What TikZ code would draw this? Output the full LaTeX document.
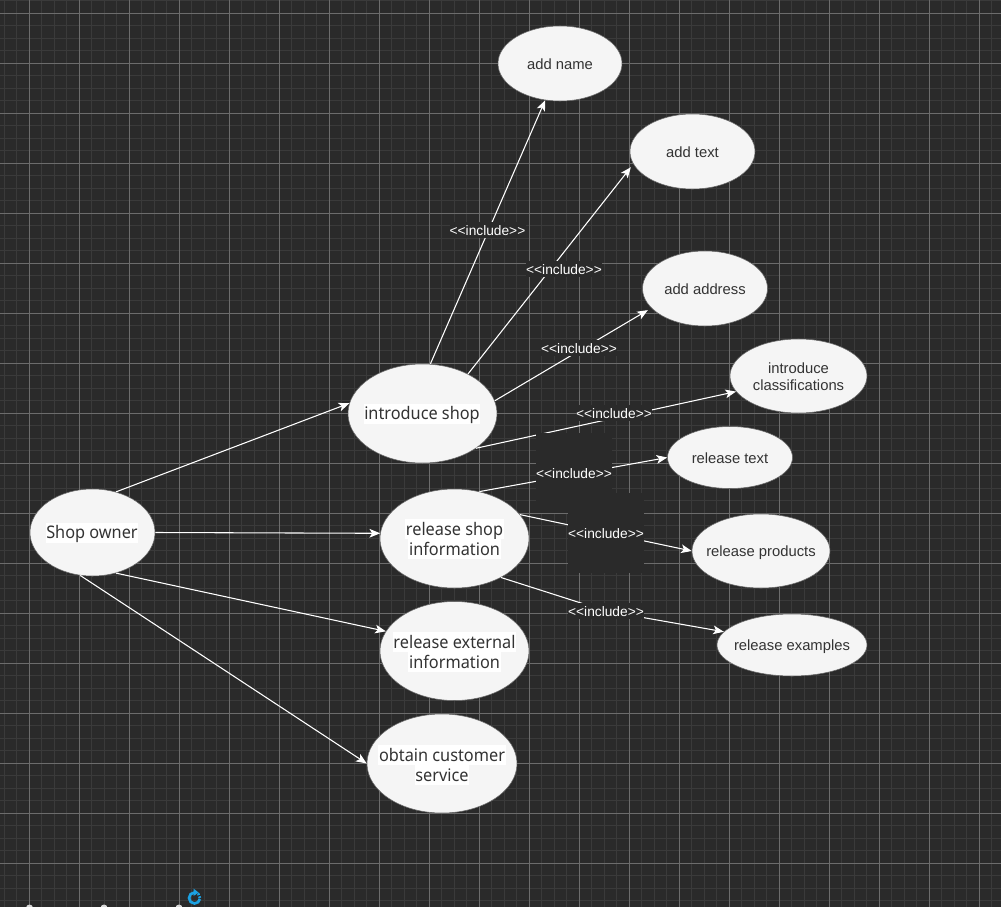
\documentclass[tikz,border=0pt]{standalone}
\usepackage{fontspec}
\setmainfont{Liberation Sans}
\newfontfamily\bigfont[FakeStretch=0.94]{Noto Sans}
\usetikzlibrary{arrows.meta,shapes.geometric}

\definecolor{canvasdark}{HTML}{2A2A2A}
\definecolor{gridminor}{HTML}{3A3A3A}
\definecolor{gridmajor}{HTML}{6C6C6C}
\definecolor{usefill}{HTML}{F5F5F5}
\definecolor{useline}{HTML}{666666}
\definecolor{usetext}{HTML}{333333}
\definecolor{spinblue}{HTML}{1BA1E2}

\tikzset{
    usecase/.style={ellipse, draw=useline, fill=usefill, text=usetext, inner xsep=-14pt, inner ysep=-6pt, text height=10pt, text depth=1.1pt, align=center, font=\fontsize{11.1}{13}\selectfont},
    bigtext/.style={text=usetext, fill=white, inner xsep=0.5pt, inner ysep=0pt, text height=12.2pt, text depth=2.8pt, font=\bigfont\fontsize{13}{15}\selectfont},
    edge/.style={draw=white, line width=0.8pt, -{Stealth[length=8pt,width=6.5pt,inset=2pt]}},
    inclabel/.style={text=white, fill=canvasdark, inner sep=0pt, text height=8pt, text depth=0pt, minimum width=57pt, minimum height=12pt, font=\fontsize{10.3}{12}\selectfont},
}

\begin{document}
\begin{tikzpicture}[x=0.75pt,y=-0.75pt]
    \useasboundingbox (0,0) rectangle (1001,907);
    \fill[canvasdark] (0,0) rectangle (1001,907);

    % Grid
    \foreach \k in {0,...,80} {
        \draw[gridminor, line width=0.75pt] ({4.3+12.5*\k},0) -- ({4.3+12.5*\k},907);
    }
    \foreach \k in {0,...,72} {
        \draw[gridminor, line width=0.75pt] (0,{0.8+12.5*\k}) -- (1001,{0.8+12.5*\k});
    }
    \foreach \k in {0,...,19} {
        \draw[gridmajor, line width=0.75pt] ({29.3+50*\k},0) -- ({29.3+50*\k},907);
    }
    \foreach \k in {0,...,18} {
        \draw[gridmajor, line width=0.75pt] (0,{13.3+50*\k}) -- (1001,{13.3+50*\k});
    }

    % Use cases, main column
    \node[usecase, minimum width=93.75pt, minimum height=65.25pt] (shopOwner) at (92.5,532.5) {};
    \node[usecase, minimum width=111.75pt, minimum height=74.25pt] (introShop) at (422.5,413.5) {};
    \node[usecase, minimum width=111.75pt, minimum height=74.25pt] (releaseShop) at (454.5,538.5) {};
    \node[usecase, minimum width=111.75pt, minimum height=74.25pt] (releaseExternal) at (454.5,651) {};
    \node[usecase, minimum width=112.5pt, minimum height=74.25pt] (obtainService) at (442,763.5) {};

    % Their texts sit on white
    \node[bigtext] (shopOwnerText) at (92,532.5) {Shop owner};
    \node[bigtext] (introShopText) at (422,413.5) {introduce shop};
    \node[bigtext] (releaseShopA) at (454.5,529) {release shop};
    \node[bigtext] (releaseShopB) at (454.5,549) {information};
    \node[bigtext] (releaseExternalA) at (454.5,642) {release external};
    \node[bigtext] (releaseExternalB) at (454.5,662) {information};
    \node[bigtext] (obtainServiceA) at (442,755) {obtain customer};
    \node[bigtext] (obtainServiceB) at (442,775) {service};

    % Use cases, right side
    \node[usecase, minimum width=93pt, minimum height=56.25pt] (addName) at (560,63.5) {add name};
    \node[usecase, minimum width=93.75pt, minimum height=56.25pt] (addText) at (692.5,151.5) {add text};
    \node[usecase, minimum width=93.75pt, minimum height=56.25pt] (addAddress) at (705,288.5) {add address};
    \node[usecase, minimum width=102.75pt, minimum height=55.5pt, text height=22.6pt, text depth=1pt] (introClass) at (798.5,376) {introduce\\classifications};
    \node[usecase, minimum width=93.75pt, minimum height=46.5pt] (releaseText) at (730,457.5) {release text};
    \node[usecase, minimum width=103.5pt, minimum height=55.5pt] (releaseProducts) at (761,551) {release products};
    \node[usecase, minimum width=112.5pt, minimum height=46.5pt] (releaseExamples) at (792,645) {release examples};

    % Bend at the label
    \coordinate (bendExamples) at (606,611);

    % Connectors
    \draw[edge] (shopOwner.60) -- (introShop.172);
    \draw[edge] (shopOwner.0) -- (releaseShop.176);
    \draw[edge] (shopOwner.-60.6) -- (releaseExternal.164.4);
    \draw[edge] (shopOwner.-106) -- (obtainService.180);
    \draw[edge] (introShop.81.4) -- (addName.-112);
    \draw[edge, shorten >=3pt] (introShop.41) -- (addText.192);
    \draw[edge, shorten >=3pt] (introShop.10.2) -- (addAddress.-160.5);
    \draw[edge] (introShop.-33.6) -- (introClass.-166.7);
    \draw[edge] (releaseShop.62.7) -- (releaseText.180);
    \draw[edge] (releaseShop.20.2) -- (releaseProducts.180);
    \draw[edge] (releaseShop.-40.2) -- (bendExamples) -- (releaseExamples.169);

    % Dark patches over the grid
    \fill[canvasdark] (536,433) rectangle (612,513);
    \fill[canvasdark] (568,493) rectangle (644,573);

    % Include labels
    \node[inclabel] (incName) at (487.5,230) {<{}<include>{}>};
    \node[inclabel] (incText) at (564,269) {<{}<include>{}>};
    \node[inclabel] (incAddress) at (579,348) {<{}<include>{}>};
    \node[inclabel] (incClass) at (614,413) {<{}<include>{}>};
    \node[inclabel] (incRelText) at (574,473) {<{}<include>{}>};
    \node[inclabel] (incProducts) at (606,533) {<{}<include>{}>};
    \node[inclabel] (incExamples) at (606,611) {<{}<include>{}>};

    % Bottom edge of the screen
    \foreach \x in {29.5,104,179} {
        \fill[white!85!black] (\x,908) circle (3.5);
    }
    \draw[spinblue, line width=2pt] (194.5,892.5) arc[start angle=270, end angle=10, radius=5.5];
    \draw[spinblue, line width=2pt, dash pattern=on 1.5pt off 1pt] (194.5,892.5) arc[start angle=270, end angle=360, radius=5.5];
    \fill[spinblue] (193.5,888.5) -- (198.5,892.5) -- (193.5,896) -- cycle;

\end{tikzpicture}
\end{document}
